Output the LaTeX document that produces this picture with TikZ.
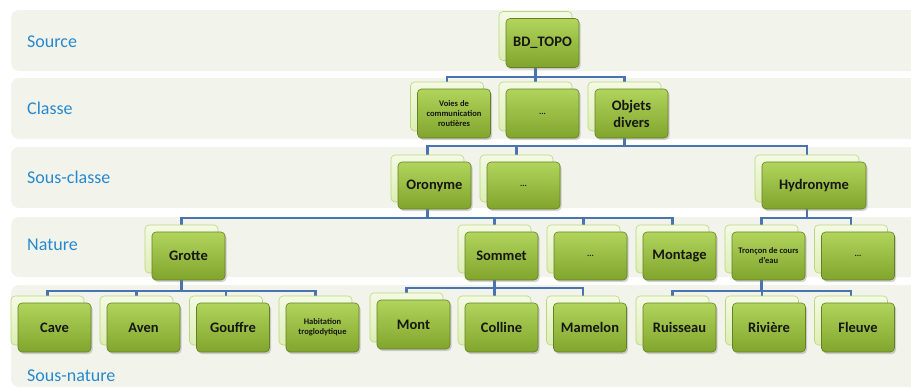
\documentclass[tikz,border=0pt]{standalone}
\usepackage{fontspec}
\setmainfont{Carlito}
\usetikzlibrary{shadows,backgrounds}
\definecolor{bandcol}{RGB}{242,244,236}
\definecolor{labcol}{RGB}{38,137,207}
\definecolor{connblue}{RGB}{74,116,176}
\definecolor{gtop}{RGB}{176,212,92}
\definecolor{gbot}{RGB}{128,164,44}
\definecolor{gedge}{RGB}{100,128,38}
\definecolor{paletop}{RGB}{244,250,228}
\definecolor{palebot}{RGB}{222,238,180}
\definecolor{paleedge}{RGB}{185,214,125}
\definecolor{ink}{RGB}{22,22,18}
\tikzset{
  bandbox/.style={fill=bandcol, rounded corners=8pt, draw=none},
  lbl/.style={anchor=west, text=labcol, font=\fontsize{18}{21}\selectfont, inner sep=0pt},
  frontbox/.style={rounded corners=4pt, draw=gedge, line width=0.6pt, top color=gtop, bottom color=gbot,
    minimum width=73pt, minimum height=49pt, inner sep=2pt, align=center, text=ink,
    font=\bfseries\fontsize{14.5}{17}\selectfont,
    drop shadow={shadow xshift=1.5pt, shadow yshift=-2pt, opacity=0.35}},
  backbox/.style={rounded corners=4pt, draw=paleedge, line width=0.6pt, top color=paletop, bottom color=palebot,
    minimum width=73pt, minimum height=49pt, inner sep=0pt},
  smalltxt/.style={font=\bfseries\fontsize{8.5}{10}\selectfont},
  connline/.style={draw=connblue, line width=2.6pt},
}
\newcommand\gbox[5][]{%
  \node[backbox,#1] (#2-b) at ([shift={(-7,-7)}]#3,#4) {};
  \node[frontbox,#1] (#2) at (#3,#4) {#5};}
\begin{document}
\begin{tikzpicture}[x=1pt,y=-1pt]
\useasboundingbox (0,0) rectangle (911,388);
% bands
\begin{scope}[on background layer]
  \clip (0,0) rectangle (911,388);
  \fill[bandbox] (11,10) rectangle (925,71);
  \fill[bandbox] (11,78) rectangle (925,139);
  \fill[bandbox] (11,147) rectangle (925,208);
  \fill[bandbox] (11,217) rectangle (925,277);
  \fill[bandbox] (11,285) rectangle (925,387);
\end{scope}
\node[lbl] (lsource) at (27,42) {Source};
\node[lbl] (lclasse) at (27,108) {Classe};
\node[lbl] (lsousclasse) at (27,177) {Sous-classe};
\node[lbl] (lnature) at (27,245) {Nature};
\node[lbl] (lsousnature) at (27,376) {Sous-nature};
% boxes
\gbox{bd}{542.5}{43}{BD\_TOPO}
\gbox[smalltxt]{voies}{454}{113.5}{Voies de\\communication\\routières}
\gbox[smalltxt]{dA}{542.5}{113.5}{...}
\gbox{objets}{631.5}{113.5}{Objets\\divers}
\gbox[minimum height=47pt]{oro}{434.5}{185.5}{Oronyme}
\gbox[smalltxt,minimum height=47pt]{dB}{523.5}{185.5}{...}
\gbox[minimum width=104pt,minimum height=47pt]{hydro}{814}{185.5}{Hydronyme}
\gbox[minimum height=48pt]{grotte}{188.5}{256}{Grotte}
\gbox[minimum height=48pt]{sommet}{501.5}{256}{Sommet}
\gbox[smalltxt,minimum height=48pt]{dC}{590.5}{256}{...}
\gbox[minimum height=48pt]{montage}{679.5}{256}{Montage}
\gbox[smalltxt,minimum height=48pt]{troncon}{768.5}{256}{Tronçon de cours\\d'eau}
\gbox[smalltxt,minimum height=48pt]{dD}{858}{256}{...}
\gbox{cave}{54.5}{327.5}{Cave}
\gbox{aven}{143.5}{327.5}{Aven}
\gbox{gouffre}{233}{327.5}{Gouffre}
\gbox[smalltxt]{habit}{322.5}{327.5}{Habitation\\troglodytique}
\gbox{mont}{413.5}{324.5}{Mont}
\gbox{colline}{501.5}{327.5}{Colline}
\gbox{mamelon}{590}{327.5}{Mamelon}
\gbox{ruis}{679.5}{327.5}{Ruisseau}
\gbox{riv}{769}{327.5}{Rivière}
\gbox{fleuve}{858}{327.5}{Fleuve}
% connectors
\coordinate (busA) at (0,77);
\coordinate (busB) at (0,146);
\coordinate (busC) at (0,218);
\coordinate (busD) at (0,291);
\coordinate (busE) at (0,288);
\coordinate (busF) at (0,291);
\begin{scope}[on background layer]
  \foreach \c in {voies,dA,objets}
    \draw[connline] (bd-b.center |- bd.south) -- (bd-b.center |- busA) -| (\c-b.north);
  \foreach \c in {oro,dB,hydro}
    \draw[connline] (objets-b.center |- objets.south) -- (objets-b.center |- busB) -| (\c-b.north);
  \foreach \c in {grotte,sommet,dC,montage}
    \draw[connline] (oro-b.center |- oro.south) -- (oro-b.center |- busC) -| (\c-b.north);
  \foreach \c in {troncon,dD}
    \draw[connline] (hydro-b.center |- hydro.south) -- (hydro-b.center |- busC) -| (\c-b.north);
  \foreach \c in {cave,aven,gouffre,habit}
    \draw[connline] (grotte-b.center |- grotte.south) -- (grotte-b.center |- busD) -| (\c-b.north);
  \foreach \c in {mont,colline,mamelon}
    \draw[connline] (sommet-b.center |- sommet.south) -- (sommet-b.center |- busE) -| (\c-b.north);
  \foreach \c in {ruis,riv,fleuve}
    \draw[connline] (troncon-b.center |- troncon.south) -- (troncon-b.center |- busF) -| (\c-b.north);
\end{scope}
\end{tikzpicture}
\end{document}
